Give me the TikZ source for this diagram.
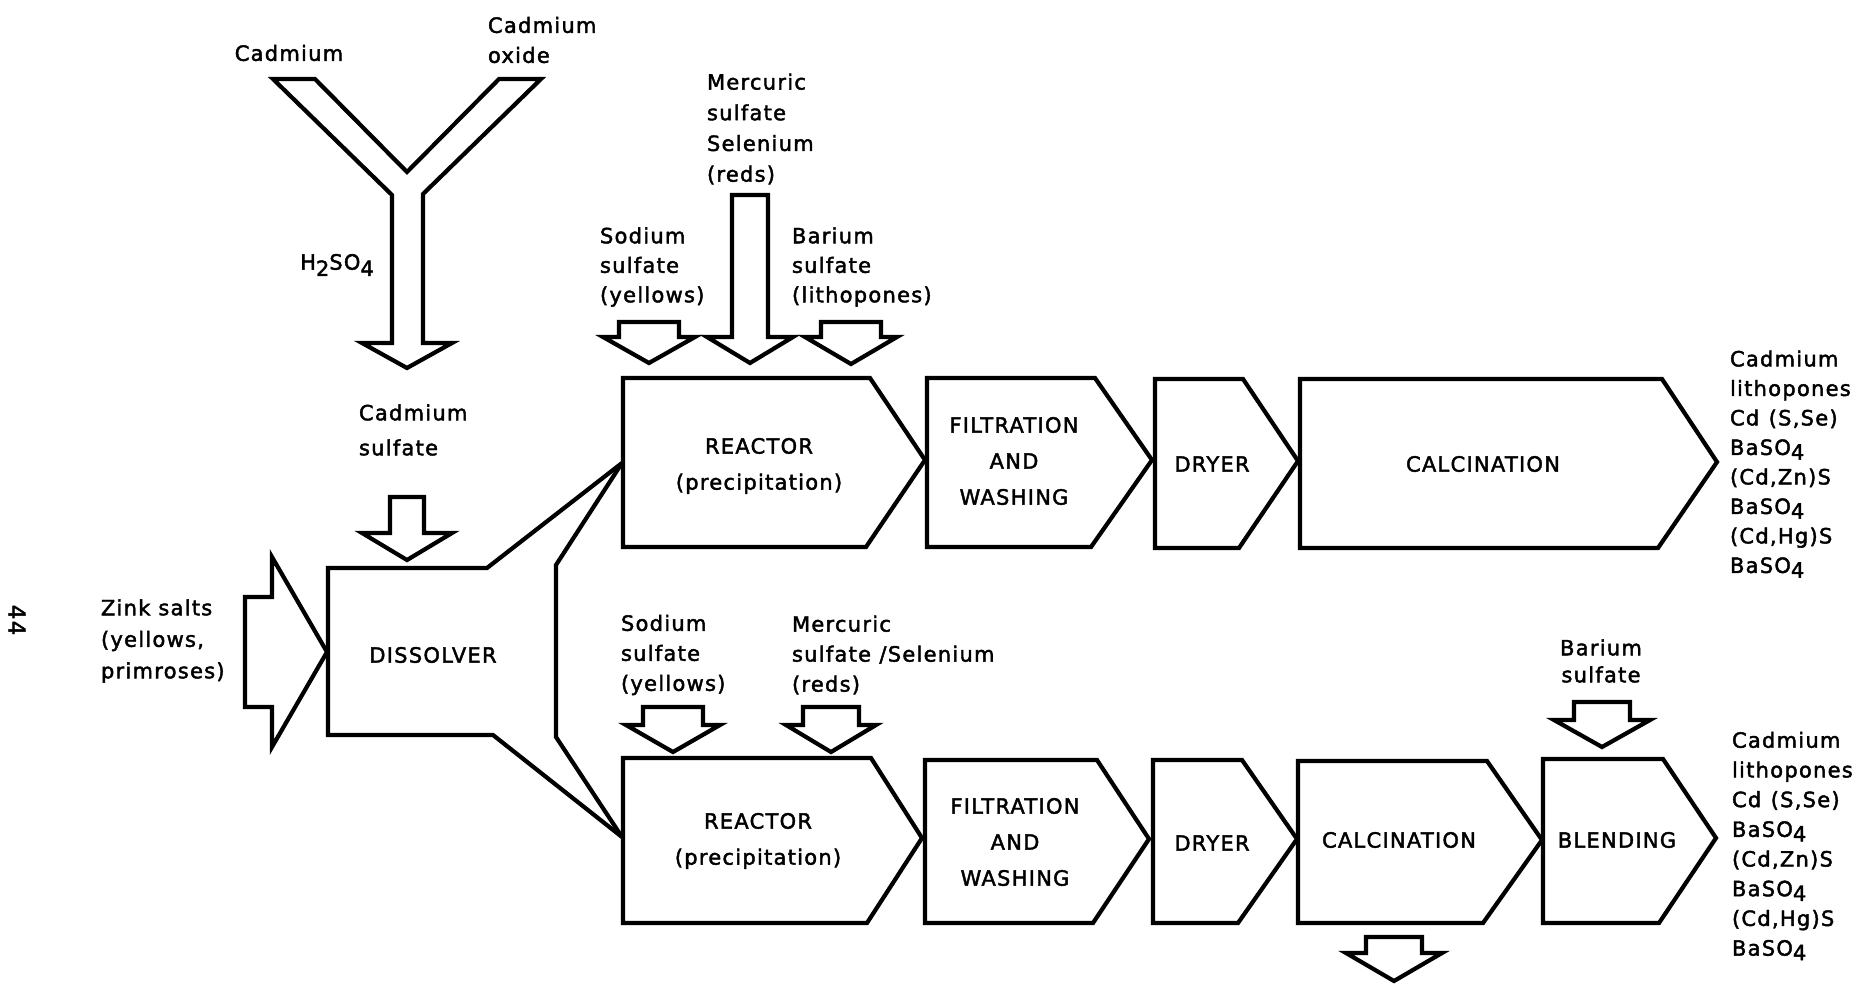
\documentclass[tikz,border=0pt]{standalone}
\usepackage{fontspec}
\setmainfont{DejaVu Sans}[LetterSpace=6,FakeBold=2]
\newcommand\lowfour{\raisebox{-0.22em}{4}}
\newcommand\blkdown[7]{% name, cx, shaft half, top, head y, head half, tip y
  \draw[shp] ({#2-#3},#4) -- ({#2+#3},#4) -- ({#2+#3},#5) -- ({#2+#6},#5)
    -- (#2,#7) coordinate (#1) -- ({#2-#6},#5) -- ({#2-#3},#5) -- cycle;}
\newcommand\pbox[6]{% left, top, corner x, tip x, bottom, tip y
  \draw[shp] (#1,#2) -- (#3,#2) -- (#4,#6) -- ({#3-4},#5) -- (#1,#5) -- cycle;}
\begin{document}
\begin{tikzpicture}[x=1pt,y=-1pt,
  shp/.style={draw=black, line width=4.2pt, line join=miter, miter limit=10},
  txt/.style={inner sep=0pt, outer sep=0pt, font=\fontsize{21}{30}\selectfont},
  boxtxt/.style={txt, align=center, font=\fontsize{21}{36}\selectfont},
  lefttxt/.style={txt, align=left, anchor=west}]
\useasboundingbox (0,0) rectangle (1871,984);

% Y-shaped feed arrow
\draw[shp] (273,79) -- (315,79) -- (407,172) -- (499,79) -- (541,79) -- (423,194)
  -- (423,343) -- (452,343) -- (407,368) -- (362,343) -- (392,343) -- (392,195) -- cycle;
\node[txt] (cd) at (289,53) {Cadmium};
\node[lefttxt] (cdo) at (488,40) {Cadmium\\oxide};
\node[txt] (h2so4) at (337,265) {H\raisebox{-0.3em}{2}SO\raisebox{-0.3em}{4}};

% Cadmium sulfate arrow
\node[lefttxt, font=\fontsize{21}{35}\selectfont] (cds) at (359,430) {Cadmium\\sulfate};
\blkdown{cdsarr}{407}{17}{497}{533}{45}{560}

% Zink salts arrow
\node[lefttxt, font=\fontsize{21}{31.5}\selectfont] (zink) at (101,641) {Zink salts\\(yellows,\\primroses)};
\draw[shp] (245,597) -- (272,597) -- (272,557) -- (327,652) coordinate (zinktip)
  -- (272,747) -- (272,707) -- (245,707) -- cycle;

% Dissolver with funnel
\draw[shp] (622,463) -- (487,568) -- (328,568) -- (328,735) -- (493,735) -- (622,837);
\draw[shp] (622,463) -- (556,565) -- (556,737) -- (622,837);
\node[boxtxt] (diss) at (433,655) {DISSOLVER};

% ---------- upper line ----------
\node[lefttxt, font=\fontsize{21}{30.7}\selectfont] (merc1) at (707,129) {Mercuric\\sulfate\\Selenium\\(reds)};
\node[lefttxt, font=\fontsize{21}{29.5}\selectfont] (sod1) at (600,267) {Sodium\\sulfate\\(yellows)};
\node[lefttxt, font=\fontsize{21}{29.5}\selectfont] (bar1) at (792,267) {Barium\\sulfate\\(lithopones)};
\blkdown{a1}{649}{30}{322}{337}{46}{363}
\blkdown{a2}{750}{18}{195}{337}{43}{363}
\blkdown{a3}{851}{30}{322}{337}{46}{364}

\pbox{623}{378}{870}{925}{547}{460}
\node[boxtxt] (reac1) at (759,466) {REACTOR\\(precipitation)};
\pbox{927}{378}{1095}{1152}{547}{460}
\node[boxtxt] (filt1) at (1014,461) {FILTRATION\\AND\\WASHING};
\pbox{1155}{379}{1243}{1298}{548}{461}
\node[boxtxt] (dry1) at (1212,464) {DRYER};
\pbox{1300}{379}{1662}{1717}{548}{462}
\node[boxtxt] (calc1) at (1483,464) {CALCINATION};
\node[lefttxt, font=\fontsize{21}{29.5}\selectfont] (out1) at (1730,464)
  {Cadmium\\lithopones\\Cd\hspace{0.45em}(S,Se)\\BaSO\lowfour\\(Cd,Zn)S\\BaSO\lowfour\\(Cd,Hg)S\\BaSO\lowfour};

% ---------- lower line ----------
\node[lefttxt, font=\fontsize{21}{30}\selectfont] (sod2) at (621,655) {Sodium\\sulfate\\(yellows)};
\node[lefttxt, font=\fontsize{21}{30}\selectfont] (merc2) at (792,655) {Mercuric\\sulfate\hspace{0.4em}/Selenium\\(reds)};
\blkdown{b1}{673}{30}{707}{725}{47}{752}
\blkdown{b2}{831}{28}{707}{725}{45}{752}

\pbox{623}{758}{871}{922}{923}{838}
\node[boxtxt] (reac2) at (758,841) {REACTOR\\(precipitation)};
\pbox{925}{760}{1097}{1149}{923}{839}
\node[boxtxt] (filt2) at (1015,842) {FILTRATION\\AND\\WASHING};
\pbox{1153}{760}{1242}{1297}{923}{839}
\node[boxtxt] (dry2) at (1212,843) {DRYER};
\pbox{1298}{761}{1487}{1542}{923}{840}
\node[boxtxt] (calc2) at (1399,840) {CALCINATION};
\pbox{1543}{759}{1663}{1716}{923}{838}
\node[boxtxt] (blend) at (1617,840) {BLENDING};

\node[txt, align=center, font=\fontsize{21}{27}\selectfont] (bar2) at (1601,661) {Barium\\sulfate};
\blkdown{b3}{1602}{28}{702}{720}{48}{747}
\blkdown{b4}{1394}{28}{937}{953}{48}{981}

\node[lefttxt, font=\fontsize{21}{29.7}\selectfont] (out2) at (1732,846)
  {Cadmium\\lithopones\\Cd\hspace{0.45em}(S,Se)\\BaSO\lowfour\\(Cd,Zn)S\\BaSO\lowfour\\(Cd,Hg)S\\BaSO\lowfour};

% page number
\node[txt, rotate=-90, font=\fontsize{23}{30}\selectfont] (pg) at (17,620) {44};
\end{tikzpicture}
\end{document}
